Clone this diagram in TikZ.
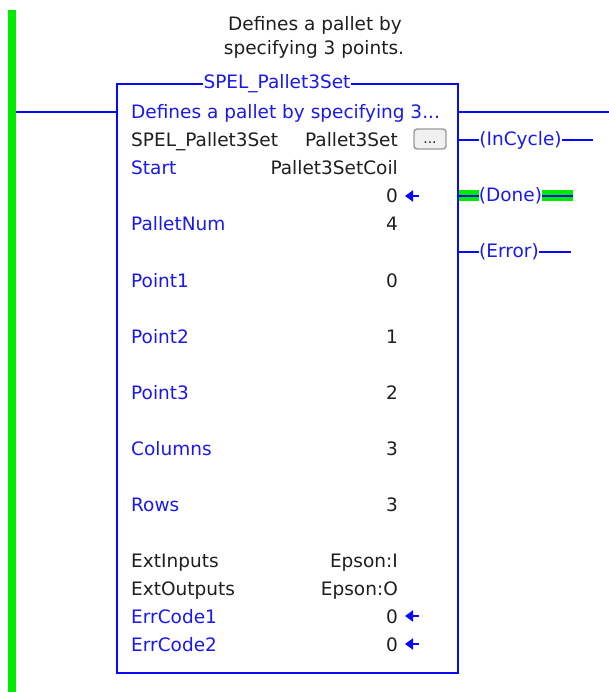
\documentclass[tikz,border=0pt]{standalone}
\usepackage{fontspec}
\setmainfont{DejaVu Sans}
\usetikzlibrary{arrows.meta}
\definecolor{lblue}{RGB}{10,10,245}
\definecolor{tblue}{RGB}{25,25,235}
\definecolor{railg}{RGB}{0,235,0}
\definecolor{txt}{RGB}{30,30,30}
\newcommand{\fs}{\fontsize{18.5}{22}\selectfont}
\begin{document}
\begin{tikzpicture}[x=1pt,y=-1pt,
  lbl/.style={anchor=base west, inner sep=0pt, font=\fs, text=tblue},
  lblk/.style={anchor=base west, inner sep=0pt, font=\fs, text=txt},
  val/.style={anchor=base east, inner sep=0pt, font=\fs, text=txt},
  wire/.style={draw=lblue, line width=1.6pt},
  coil/.style={inner sep=0pt, font=\fs, text=tblue},
  backarrow/.style={draw=lblue, line width=2.8pt, -{Triangle[length=8pt,width=11pt]}},
  greenwire/.style={draw=railg, line width=11pt}]
\useasboundingbox (0,0) rectangle (609,692);
% power rail
\fill[railg] (8,10) rectangle (16,692);
\coordinate (railR) at (16,112);
% description above block
\node[font=\fs, text=txt, inner sep=0pt] (d1) at (315,25) {Defines a pallet by};
\node[font=\fs, text=txt, inner sep=0pt] (d2) at (314,49) {specifying 3 points.};
% block
\node[draw=lblue, line width=1.8pt, minimum width=341pt, minimum height=589pt, inner sep=0pt] (box) at (287.5,378.5) {};
\node[fill=white, inner xsep=1pt, inner ysep=0pt, font=\fs, text=tblue] (title) at (277,84) {SPEL\_Pallet3Set};
% rung wires
\draw[wire] (railR) -- (box.west |- railR);
\coordinate (outR) at (609,112);
\draw[wire] (box.east |- outR) -- (outR);
% rows
\node[lbl] (r1) at (131,119) {Defines a pallet by specifying 3...};
\node[lblk] (r2) at (131,147) {SPEL\_Pallet3Set};
\node[val] (r2v) at (398,147) {Pallet3Set};
\node[draw=gray!80, fill=gray!12, rounded corners=3pt, line width=1.4pt, minimum width=32pt, minimum height=20pt, inner sep=0pt] (btn) at (430,139) {};
\node[inner sep=0pt, font=\fontsize{14}{14}\selectfont, text=txt, anchor=base] (btnt) at (430,144) {...};
\node[lbl] (r3) at (131,175) {Start};
\node[val] (r3v) at (398,175) {Pallet3SetCoil};
\node[val] (r4v) at (398,203) {0};
\node[lbl] (r5) at (131,231) {PalletNum};
\node[val] (r5v) at (398,231) {4};
\node[lbl] (r6) at (131,287) {Point1};
\node[val] (r6v) at (398,287) {0};
\node[lbl] (r7) at (131,343) {Point2};
\node[val] (r7v) at (398,343) {1};
\node[lbl] (r8) at (131,399) {Point3};
\node[val] (r8v) at (398,399) {2};
\node[lbl] (r9) at (131,455) {Columns};
\node[val] (r9v) at (398,455) {3};
\node[lbl] (r10) at (131,511) {Rows};
\node[val] (r10v) at (398,511) {3};
\node[lblk] (r11) at (131,567) {ExtInputs};
\node[val] (r11v) at (398,567) {Epson:I};
\node[lblk] (r12) at (131,595) {ExtOutputs};
\node[val] (r12v) at (398,595) {Epson:O};
\node[lbl] (r13) at (131,623) {ErrCode1};
\node[val] (r13v) at (398,623) {0};
\node[lbl] (r14) at (131,651) {ErrCode2};
\node[val] (r14v) at (398,651) {0};
% back arrows
\draw[backarrow] ([xshift=21pt,yshift=7pt]r4v.base east) -- ([xshift=7pt,yshift=7pt]r4v.base east);
\draw[backarrow] ([xshift=21pt,yshift=7pt]r13v.base east) -- ([xshift=7pt,yshift=7pt]r13v.base east);
\draw[backarrow] ([xshift=21pt,yshift=7pt]r14v.base east) -- ([xshift=7pt,yshift=7pt]r14v.base east);
% coils
\node[coil] (inc) at (520.5,140) {(InCycle)};
\coordinate (incR) at (593,140);
\draw[wire] (box.east |- inc) -- (inc.west);
\draw[wire] (inc.east) -- (incR);
\node[coil] (done) at (510.5,196) {(Done)};
\coordinate (doneR) at (573,196);
\draw[greenwire] (box.east |- done) -- (done.west);
\draw[greenwire] (done.east) -- (doneR);
\draw[draw=lblue, line width=1.6pt] (box.east |- done) -- (done.west);
\draw[draw=lblue, line width=1.6pt] (done.east) -- (doneR);
\node[coil] (err) at (509,252) {(Error)};
\coordinate (errR) at (571,252);
\draw[wire] (box.east |- err) -- (err.west);
\draw[wire] (err.east) -- (errR);
\end{tikzpicture}
\end{document}
